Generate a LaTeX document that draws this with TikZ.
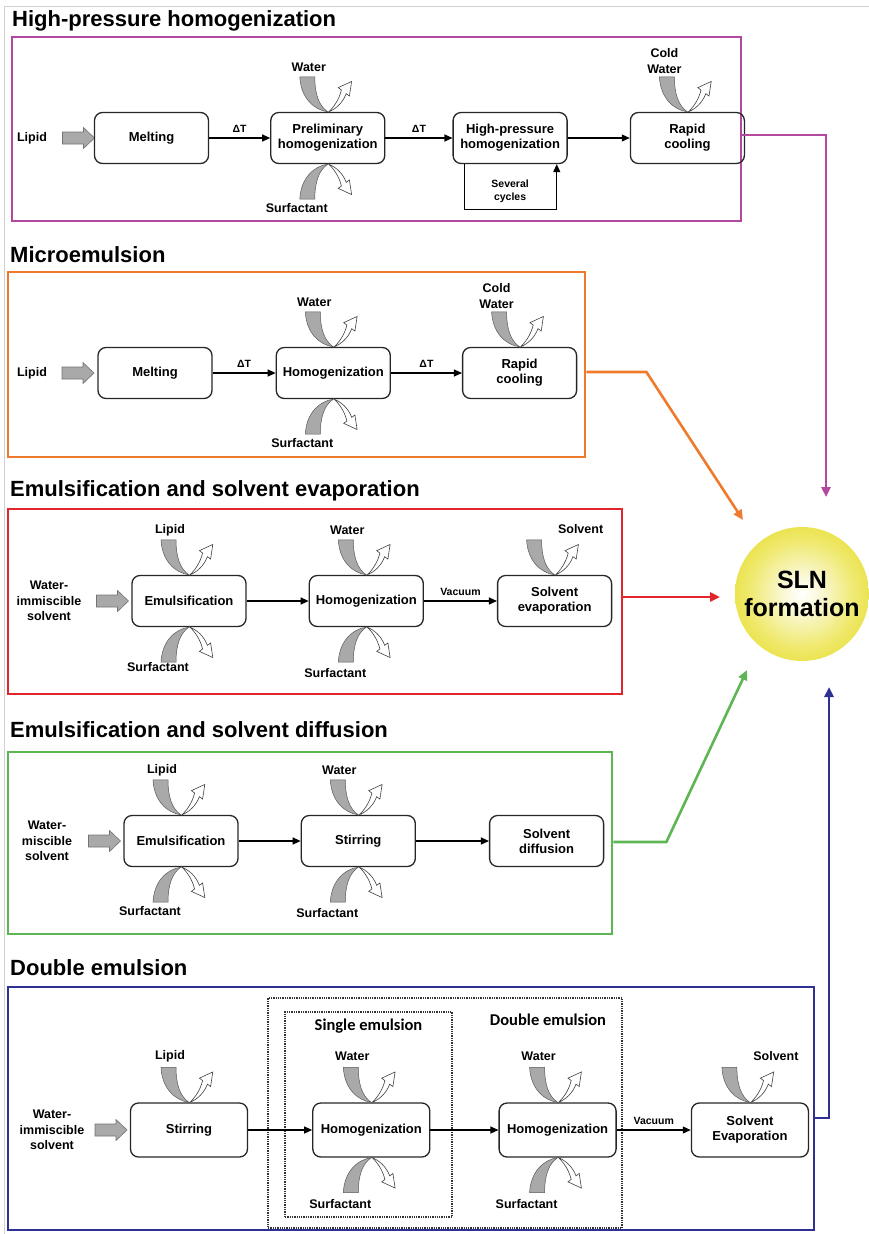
\documentclass[tikz,border=0pt]{standalone}
\usepackage{fontspec}
\setmainfont{Liberation Sans}
\newfontfamily\emfont{Carlito}
\usepackage{tikz}
\usetikzlibrary{arrows.meta,positioning,calc}
\definecolor{HPHPink}{HTML}{B4489F}
\definecolor{MEOrange}{HTML}{EE7B2C}
\definecolor{ESERed}{HTML}{E2252B}
\definecolor{ESDGreen}{HTML}{5DB653}
\definecolor{DEBlue}{HTML}{2E3192}
\definecolor{SLNYellow}{HTML}{E4DA1E}
\definecolor{SLNPale}{HTML}{FBF9DC}
\definecolor{SLNMid}{HTML}{EFE96E}
\definecolor{FeedGrey}{HTML}{A9A9A9}
\pgfdeclareradialshading{slnglow}{\pgfpoint{0bp}{0bp}}{color(0bp)=(white); color(6bp)=(SLNPale); color(20bp)=(SLNMid); color(34bp)=(SLNYellow); color(50bp)=(SLNYellow)}

\begin{document}
\begin{tikzpicture}[x=1pt,y=-1pt,
  stage/.style={draw=black!85,line width=1.3pt,rounded corners=8pt,minimum width=114pt,minimum height=51pt,align=center,inner sep=2pt,font=\bfseries\fontsize{13}{15}\selectfont},
  wide/.style={minimum width=117pt,minimum height=54pt},
  tag/.style={align=center,inner sep=0pt,font=\bfseries\fontsize{12.5}{15.5}\selectfont},
  note/.style={align=center,inner sep=0pt,font=\bfseries\fontsize{10.5}{12.5}\selectfont},
  emtag/.style={inner sep=0pt,font=\emfont\bfseries\fontsize{16.5}{18}\selectfont},
  heading/.style={anchor=base west,inner sep=0pt,font=\bfseries\fontsize{22}{24}\selectfont},
  group/.style={line width=2.8pt,inner sep=0pt},
  dotbox/.style={draw=black!80,line width=1.3pt,densely dotted,inner sep=0pt},
  flow/.style={-{Triangle[length=8pt,width=7pt]},line width=1.2pt},
  route/.style={line width=2.6pt,-{Triangle[length=10pt,width=9pt]}},
  inflow/.pic={
    \filldraw[fill=FeedGrey,draw=black!55,line width=0.6pt] (-16,-6) -- (5,-6) -- (5,-10.5) -- (16,0) -- (5,10.5) -- (5,6) -- (-16,6) -- cycle;
  },
  mixin/.pic={
    \filldraw[fill=FeedGrey,draw=black!65,line width=0.5pt] (-28,-35) .. controls (-27,-14) and (-14,-2) .. (0,0) .. controls (-9,-6) and (-13,-18) .. (-13,-35) -- cycle;
    \filldraw[fill=white,draw=black!75,line width=0.6pt] (1,0) .. controls (5,-4) and (11,-11) .. (13.6,-21.8) -- (10.4,-24.2) -- (23.8,-30.4) -- (21.6,-15.8) -- (18.4,-18.2) .. controls (15,-9) and (8,-3) .. (1,0) -- cycle;
  },
]
\useasboundingbox (0,0) rectangle (869,1234);
\draw[black!18,line width=1pt] (4.5,1234) -- (4.5,6) -- (869,6);

% high-pressure homogenization
\node[heading] (t1) at (12,26) {High-pressure homogenization};
\node[group,draw=HPHPink,minimum width=729pt,minimum height=184pt] (f1) at (376.5,129) {};
\node[tag] (lip1) at (32,138) {Lipid};
\pic at (78.5,138) {inflow};
\node[stage] (melt1) at (151.5,138) {Melting};
\node[stage,right=61pt of melt1] (pre1) {Preliminary\\homogenization};
\node[stage,right=67pt of pre1] (hp1) {High-pressure\\homogenization};
\node[stage,right=62pt of hp1] (cool1) {Rapid\\cooling};
\draw[flow] (melt1) -- node[note,above=5pt] {ΔT} (pre1);
\draw[flow] (pre1) -- node[note,above=5pt] {ΔT} (hp1);
\draw[flow] (hp1) -- (cool1);
\draw[flow] ($(hp1.south west)+(12,0)$) -- ++(0,45) -| ($(hp1.south east)+(-11,0)$);
\node[note] (cyc1) at ($(hp1.south)+(0,27)$) {Several\\cycles};
\pic at (pre1.north) {mixin};
\node[tag] (w1) at ($(pre1.north)+(-19,-45)$) {Water};
\pic[yscale=-1] at (pre1.south) {mixin};
\node[tag] (s1) at ($(pre1.south)+(-31,44)$) {Surfactant};
\pic at (cool1.north) {mixin};
\node[tag] (cw1) at ($(cool1.north)+(-23,-51)$) {Cold\\Water};

% microemulsion
\node[heading] (t2) at (10,262) {Microemulsion};
\node[group,draw=MEOrange,minimum width=577pt,minimum height=185pt] (f2) at (296.5,364.5) {};
\node[tag] (lip2) at (32,373) {Lipid};
\pic at (78,373) {inflow};
\node[stage] (melt2) at (155,373) {Melting};
\node[stage,right=63pt of melt2] (hom2) {Homogenization};
\node[stage,right=71pt of hom2] (cool2) {Rapid\\cooling};
\draw[flow] (melt2) -- node[note,above=5pt] {ΔT} (hom2);
\draw[flow] (hom2) -- node[note,above=5pt] {ΔT} (cool2);
\pic at (hom2.north) {mixin};
\node[tag] (w2) at ($(hom2.north)+(-19,-45)$) {Water};
\pic[yscale=-1] at (hom2.south) {mixin};
\node[tag] (s2) at ($(hom2.south)+(-31,44)$) {Surfactant};
\pic at (cool2.north) {mixin};
\node[tag] (cw2) at ($(cool2.north)+(-23,-51)$) {Cold\\Water};

% emulsification and solvent evaporation
\node[heading] (t3) at (10,496) {Emulsification and solvent evaporation};
\node[group,draw=ESERed,minimum width=614pt,minimum height=185pt] (f3) at (315,601.5) {};
\node[tag] (sol3) at (49,601) {Water-\\immiscible\\solvent};
\pic at (112.5,601) {inflow};
\node[stage] (emu3) at (189,601) {Emulsification};
\node[stage,right=62pt of emu3] (hom3) {Homogenization};
\node[stage,right=73pt of hom3] (evp3) {Solvent\\evaporation};
\draw[flow] (emu3) -- (hom3);
\draw[flow] (hom3) -- node[note,above=5pt] {Vacuum} (evp3);
\pic at (emu3.north) {mixin};
\node[tag] (l3) at ($(emu3.north)+(-19,-45)$) {Lipid};
\pic[yscale=-1] at (emu3.south) {mixin};
\node[tag] (s3a) at ($(emu3.south)+(-31,40)$) {Surfactant};
\pic at (hom3.north) {mixin};
\node[tag] (w3) at ($(hom3.north)+(-19,-45)$) {Water};
\pic[yscale=-1] at (hom3.south) {mixin};
\node[tag] (s3b) at ($(hom3.south)+(-31,46)$) {Surfactant};
\pic at (evp3.north) {mixin};
\node[tag] (v3) at ($(evp3.north)+(26,-46)$) {Solvent};

% emulsification and solvent diffusion
\node[heading] (t4) at (10,737) {Emulsification and solvent diffusion};
\node[group,draw=ESDGreen,minimum width=604pt,minimum height=182pt] (f4) at (310,843) {};
\node[tag] (sol4) at (47,841) {Water-\\miscible\\solvent};
\pic at (104.5,841) {inflow};
\node[stage] (emu4) at (181,841) {Emulsification};
\node[stage,right=62pt of emu4] (stir4) {Stirring};
\node[stage,right=73pt of stir4] (dif4) {Solvent\\diffusion};
\draw[flow] (emu4) -- (stir4);
\draw[flow] (stir4) -- (dif4);
\pic at (emu4.north) {mixin};
\node[tag] (l4) at ($(emu4.north)+(-19,-45)$) {Lipid};
\pic[yscale=-1] at (emu4.south) {mixin};
\node[tag] (s4a) at ($(emu4.south)+(-31,44)$) {Surfactant};
\pic at (stir4.north) {mixin};
\node[tag] (w4) at ($(stir4.north)+(-19,-45)$) {Water};
\pic[yscale=-1] at (stir4.south) {mixin};
\node[tag] (s4b) at ($(stir4.south)+(-31,46)$) {Surfactant};

% double emulsion
\node[heading] (t5) at (10,975) {Double emulsion};
\node[group,draw=DEBlue,minimum width=806pt,minimum height=243pt] (f5) at (411,1108.5) {};
\node[dotbox,minimum width=354pt,minimum height=230pt] (dbl5) at (445,1113) {};
\node[dotbox,minimum width=167pt,minimum height=205pt] (sgl5) at (368.5,1114.5) {};
\node[emtag] (sgt5) at ($(sgl5.north)+(0,15)$) {Single emulsion};
\node[emtag] (dbt5) at ($(dbl5.north)+(103,22)$) {Double emulsion};
\node[tag] (sol5) at (52,1130) {Water-\\immiscible\\solvent};
\pic at (111,1130) {inflow};
\node[stage,wide] (stir5) at (189,1130) {Stirring};
\node[stage,wide,right=64pt of stir5] (homa5) {Homogenization};
\node[stage,wide,right=68pt of homa5] (homb5) {Homogenization};
\node[stage,wide,right=74pt of homb5] (evp5) {Solvent\\Evaporation};
\draw[flow] (stir5) -- (homa5);
\draw[flow] (homa5) -- (homb5);
\draw[flow] (homb5) -- node[note,above=5pt] {Vacuum} (evp5);
\pic at (stir5.north) {mixin};
\node[tag] (l5) at ($(stir5.north)+(-19,-46)$) {Lipid};
\pic at (homa5.north) {mixin};
\node[tag] (w5a) at ($(homa5.north)+(-19,-46)$) {Water};
\pic[yscale=-1] at (homa5.south) {mixin};
\node[tag] (s5a) at ($(homa5.south)+(-31,46)$) {Surfactant};
\pic at (homb5.north) {mixin};
\node[tag] (w5b) at ($(homb5.north)+(-19,-46)$) {Water};
\pic[yscale=-1] at (homb5.south) {mixin};
\node[tag] (s5b) at ($(homb5.south)+(-31,46)$) {Surfactant};
\pic at (evp5.north) {mixin};
\node[tag] (v5) at ($(evp5.north)+(26,-46)$) {Solvent};

% SLN formation and the routes into it
\node[circle,shade,shading=slnglow,minimum size=134pt,inner sep=0pt,align=center,font=\bfseries\fontsize{25}{28}\selectfont] (sln) at (802,594) {SLN\\formation};
\coordinate (tipM) at (826,497);
\coordinate (tipO) at (743,520);
\coordinate (tipR) at (720,597);
\coordinate (tipG) at (747,670);
\coordinate (tipB) at (829,687);
\draw[route,HPHPink] ($(f1.east)+(0,6)$) -| (tipM);
\draw[route,MEOrange] ($(f2.east)+(0,7.5)$) -- ++(60,0) -- (tipO);
\draw[route,ESERed] ($(f3.east)+(0,-4.5)$) -- (tipR);
\draw[route,ESDGreen] ($(f4.east)+(0,-1)$) -- ++(53,0) -- (tipG);
\draw[route,DEBlue] ($(f5.east)+(0,9.5)$) -| (tipB);
\end{tikzpicture}
\end{document}
